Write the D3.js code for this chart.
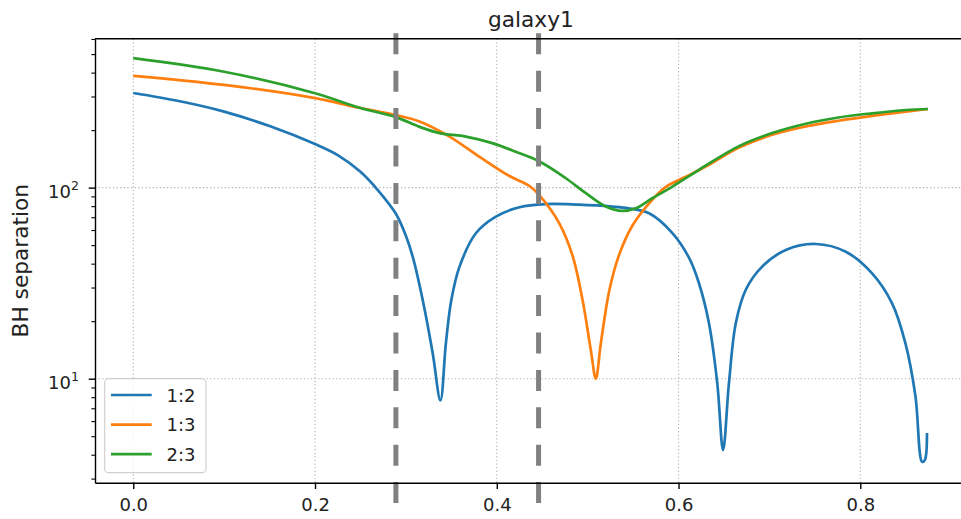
<!DOCTYPE html>
<html>
<head>
<meta charset="utf-8">
<script src="https://cdn.jsdelivr.net/npm/d3@7"></script>
<style>
  body { margin: 0; background: #fff; }
  svg { display: block; font-family: "DejaVu Sans", sans-serif; }
</style>
</head>
<body>
<script>
// time fraction vs BH separation
const x12 = [0, 0.05, 0.1, 0.15, 0.2, 0.225, 0.25, 0.27, 0.289, 0.3, 0.3075, 0.3185, 0.3295, 0.338, 0.344, 0.35, 0.359, 0.377, 0.399, 0.425, 0.454, 0.49, 0.527, 0.545, 0.5676, 0.593, 0.6115, 0.6225, 0.6335, 0.6426, 0.649, 0.6555, 0.663, 0.674, 0.692, 0.718, 0.751, 0.784, 0.813, 0.835, 0.8497, 0.8607, 0.868, 0.871, 0.8734]
const y12 = [313, 284, 250, 210, 169, 148, 121, 96, 73, 56, 43.5, 25.8, 13.6, 7.7, 15.3, 25.8, 38.6, 57.7, 70.5, 79, 82, 81.4, 79.6, 78, 73.4, 58, 43, 31.6, 19.5, 9.5, 4.24, 9.5, 19.5, 29.2, 38.6, 47.2, 50.7, 46.2, 35.6, 24.8, 15.3, 8.1, 3.67, 3.75, 5.2]

const x13 = [0, 0.1, 0.2, 0.25, 0.289, 0.315, 0.348, 0.381, 0.414, 0.436, 0.447, 0.4688, 0.4834, 0.4944, 0.5035, 0.509, 0.5145, 0.524, 0.535, 0.549, 0.5676, 0.586, 0.608, 0.63, 0.6665, 0.703, 0.74, 0.776, 0.813, 0.85, 0.8745]
const y13 = [385, 345, 294, 261, 240, 222, 185, 145, 115, 102, 91, 65, 44, 25.8, 14.1, 10, 15.3, 29.2, 45, 63, 82.8, 101, 114, 129, 162, 189, 209, 224, 237.5, 250, 258]

const x23 = [0, 0.1, 0.2, 0.25, 0.289, 0.315, 0.337, 0.366, 0.395, 0.421, 0.447, 0.476, 0.498, 0.52, 0.538, 0.553, 0.571, 0.593, 0.6225, 0.6665, 0.703, 0.74, 0.776, 0.813, 0.85, 0.8745]
const y23 = [476, 404, 312, 261, 234, 208, 193, 185, 171, 154, 137, 112, 93.5, 79.6, 75.5, 78, 88, 101, 124, 165, 193, 216, 233, 245, 255, 258]

const labels = ["1:2", "1:3", "2:3"]
const colors = ["#1f77b4", "#ff7f0e", "#2ca02c"]
const vlines = [0.289, 0.446]
const xTicks = [0, 0.2, 0.4, 0.6, 0.8]
const yMajor = [10, 100]
const yMinor = [3, 4, 5, 6, 7, 8, 9, 20, 30, 40, 50, 60, 70, 80, 90, 200, 300, 400, 500, 600]

const W = 961
const H = 519
const axL = 95, axT = 38.7, axB = 482.7, axR = 966.7

const svg = d3.select("body").append("svg")
    .attr("width", W)
    .attr("height", H)

const x = d3.scaleLinear().domain([-0.0421, 0.9171]).range([axL, axR])
const y = d3.scaleLog().domain([2.855, 602]).range([axB, axT])

// grid
const grid = svg.append("g")
    .attr("stroke", "#b0b0b0")
    .attr("stroke-width", 1.1)
    .attr("stroke-dasharray", "1.2,2.4")
grid.selectAll("line.gx").data(xTicks).join("line")
    .attr("class", "gx")
    .attr("x1", (d) => x(d)).attr("x2", (d) => x(d))
    .attr("y1", axT).attr("y2", axB)
grid.selectAll("line.gy").data(yMajor).join("line")
    .attr("class", "gy")
    .attr("x1", axL).attr("x2", axR)
    .attr("y1", (d) => y(d)).attr("y2", (d) => y(d))

// series
const series = [[x12, y12], [x13, y13], [x23, y23]]
const line = d3.line()
    .x((d) => x(d[0]))
    .y((d) => y(d[1]))
    .curve(d3.curveCatmullRom.alpha(0.5))
series.forEach(([xs, ys], i) => {
    svg.append("path")
        .attr("fill", "none")
        .attr("stroke", colors[i])
        .attr("stroke-width", 2.7)
        .attr("stroke-linejoin", "round")
        .attr("d", line(xs.map((v, j) => [v, ys[j]])))
})

// dashed markers, not clipped
svg.selectAll("line.vl").data(vlines).join("line")
    .attr("class", "vl")
    .attr("x1", (d) => x(d)).attr("x2", (d) => x(d))
    .attr("y1", 33.3).attr("y2", 560)
    .attr("stroke", "#808080")
    .attr("stroke-width", 5)
    .attr("stroke-dasharray", "21,16.4")

// axes
const xAxis = svg.append("g")
    .attr("transform", `translate(0,${axB})`)
    .call(d3.axisBottom(x).tickValues(xTicks).tickFormat(d3.format(".1f")).tickSize(6.3).tickPadding(9.5).tickSizeOuter(0))
xAxis.select(".domain").attr("stroke-width", 1.4)
xAxis.selectAll(".tick line").attr("stroke-width", 1.4)
xAxis.selectAll("text").attr("font-size", 18).attr("font-family", "DejaVu Sans").attr("fill", "#222")

const yAxis = svg.append("g")
    .attr("transform", `translate(${axL},0)`)
    .call(d3.axisLeft(y).tickValues(yMajor).tickFormat(() => "").tickSize(6.3).tickSizeOuter(0))
yAxis.select(".domain").attr("stroke-width", 1.4)
yAxis.selectAll(".tick line").attr("stroke-width", 1.4)
const yMinorAxis = svg.append("g")
    .attr("transform", `translate(${axL},0)`)
    .call(d3.axisLeft(y).tickValues(yMinor).tickFormat(() => "").tickSize(3.6).tickSizeOuter(0))
yMinorAxis.select(".domain").remove()
yMinorAxis.selectAll(".tick line").attr("stroke-width", 1.1)

const yLab = svg.append("g")
yMajor.forEach((v) => {
    const t = yLab.append("text")
        .attr("x", 79)
        .attr("y", y(v) + 10.6)
        .attr("text-anchor", "end")
        .attr("font-size", 18)
        .attr("fill", "#222")
    t.append("tspan").text("10")
    t.append("tspan").attr("font-size", 12.6).attr("dy", -8).text(Math.round(Math.log10(v)))
})

// top and right spines
svg.append("line")
    .attr("x1", axL).attr("x2", axR)
    .attr("y1", axT).attr("y2", axT)
    .attr("stroke", "#000").attr("stroke-width", 1.4)
svg.append("line")
    .attr("x1", axR).attr("x2", axR)
    .attr("y1", axT).attr("y2", axB)
    .attr("stroke", "#000").attr("stroke-width", 1.4)

// title and label
svg.append("text")
    .attr("x", (axL + axR) / 2)
    .attr("y", 26.5)
    .attr("text-anchor", "middle")
    .attr("font-size", 21.7)
    .attr("fill", "#222")
    .text("galaxy1")
svg.append("text")
    .attr("transform", `translate(28,${(axT + axB) / 2}) rotate(-90)`)
    .attr("text-anchor", "middle")
    .attr("font-size", 21.7)
    .attr("fill", "#222")
    .text("BH separation")

// legend
const lg = svg.append("g")
lg.append("rect")
    .attr("x", 104.7).attr("y", 378.7)
    .attr("width", 101.3).attr("height", 94)
    .attr("rx", 4)
    .attr("fill", "#fff").attr("fill-opacity", 0.8)
    .attr("stroke", "#d0d0d0").attr("stroke-width", 1.2)
labels.forEach((lab, i) => {
    const ly = 395 + i * 29.6
    lg.append("line")
        .attr("x1", 111).attr("x2", 151.7)
        .attr("y1", ly).attr("y2", ly)
        .attr("stroke", colors[i]).attr("stroke-width", 2.7)
    lg.append("text")
        .attr("x", 166.5).attr("y", ly + 6.5)
        .attr("font-size", 18)
        .attr("fill", "#222")
        .text(lab)
})
</script>
</body>
</html>
